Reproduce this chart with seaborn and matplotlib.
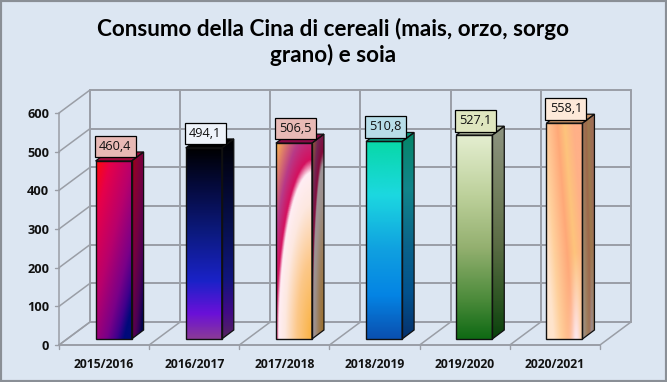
import numpy as np
import pandas as pd
import matplotlib.pyplot as plt
from matplotlib.colors import LinearSegmentedColormap, to_rgb
from matplotlib.patches import Polygon, Rectangle
from matplotlib.transforms import Affine2D
import seaborn as sns

# dati
stagioni = ['2015/2016', '2016/2017', '2017/2018', '2018/2019', '2019/2020', '2020/2021']
consumo = [460.4, 494.1, 506.5, 510.8, 527.1, 558.1]
etichette = ['460,4', '494,1', '506,5', '510,8', '527,1', '558,1']
tick_y = [0, 100, 200, 300, 400, 500, 600]
titolo = 'Consumo della Cina di cereali (mais, orzo, sorgo\ngrano) e soia'

colori_box = ['#e8b9b5', '#eef3fa', '#e8b9b5', '#b7dde8', '#dfe6bf', '#fde9d9']
colori_top = ['#a00a3c', '#000000', '#8c0a48', '#0a9a80', '#a8b09a', '#c8946a']

SFONDO = '#dce6f2'
GRIGIO = '#9a9ea6'
W, H = 667, 382
DX, DY = 31, 23      # profondita' pareti
BX, BY = 9.5, 6      # posizione barra nel piano
SX, SY = 12, 9       # profondita' barra

df = pd.DataFrame({'stagione': stagioni, 'consumo': consumo})

sns.set_theme(style='white', rc={'figure.facecolor': SFONDO, 'axes.facecolor': 'none'})
plt.rcParams['font.family'] = ['Open Sans', 'DejaVu Sans']

fig = plt.figure(figsize=(W / 100, H / 100), dpi=100)
ax = fig.add_axes([59 / W, 1 - 345 / H, 541 / W, 232 / H])

sns.barplot(data=df, x='stagione', y='consumo', width=0.4, color='white', ax=ax, zorder=3)
ax.set_xlim(-0.5, 5.5)
ax.set_ylim(0, 600)
ax.set_yticks(tick_y)
ax.set_xlabel('')
ax.set_ylabel('')
ax.tick_params(axis='both', length=0)
sns.despine(ax=ax, left=True, bottom=True)
ax.set_xticks(range(6))
ax.set_xticklabels(stagioni, fontsize=8.7, fontweight='bold', color='#111111')
ax.set_yticklabels([str(v) for v in tick_y], fontsize=9.2, fontweight='bold', color='#111111')
ax.tick_params(axis='x', pad=9)
ax.tick_params(axis='y', pad=7)


def sposta(dx, dy):
    return ax.transData + Affine2D().translate(dx, dy)


# bordo del grafico
fig.add_artist(Rectangle((0, 0), 1, 1, transform=fig.transFigure, fill=False,
                         edgecolor='#8a8f96', linewidth=3))

# pareti: griglia
t_back = sposta(DX, DY)
lw = 1.4
for v in tick_y:
    ax.plot([-0.5, 5.5], [v, v], color=GRIGIO, lw=lw, transform=t_back, zorder=1, clip_on=False)
    # linea obliqua parete sinistra
    p0 = ax.transData.transform((-0.5, v))
    p1 = p0 + np.array([DX, DY])
    ax.plot([p0[0], p1[0]], [p0[1], p1[1]], color=GRIGIO, lw=1.1, transform=None, zorder=1, clip_on=False)
    ax.plot([p0[0] - 4, p0[0]], [p0[1], p0[1]], color=GRIGIO, lw=1.0, transform=None, zorder=1, clip_on=False)
for i in range(7):
    x = i - 0.5
    ax.plot([x, x], [0, 600], color=GRIGIO, lw=lw, transform=t_back, zorder=1, clip_on=False)
    p0 = ax.transData.transform((x, 0))
    p1 = p0 + np.array([DX, DY])
    ax.plot([p0[0], p1[0]], [p0[1], p1[1]], color=GRIGIO, lw=1.1, transform=None, zorder=1, clip_on=False)
    ax.plot([p0[0], p0[0]], [p0[1], p0[1] - 4], color=GRIGIO, lw=1.0, transform=None, zorder=1, clip_on=False)
ax.plot([-0.5, -0.5], [0, 600], color=GRIGIO, lw=1.1, zorder=1, clip_on=False)
ax.plot([-0.5, 5.5], [0, 0], color=GRIGIO, lw=1.4, zorder=1, clip_on=False)


# riempimenti sfumati
def scala(stops):
    return LinearSegmentedColormap.from_list('g', stops)


def griglia(n=120):
    return np.meshgrid(np.linspace(0, 1, n), np.linspace(0, 1, n * 2))


def verticale(stops):
    u, v = griglia()
    return scala(stops)(v)[..., :3]


def diagonale(stops, a, b):
    u, v = griglia()
    return scala(stops)(np.clip(a * u + b * v, 0, 1))[..., :3]


def radiale(stops):
    u, v = griglia()
    r = np.sqrt(((1 - u) / 1.0) ** 2 + ((1 - v) / 0.92) ** 2) / 1.45
    return scala(stops)(np.clip(r, 0, 1))[..., :3]


def strisce(stops):
    u, v = griglia()
    t = np.clip(u - 0.45 * (v - 0.5) + 0.02, 0, 1)
    img = scala(stops)(t)[..., :3]
    # riflesso chiaro in basso a destra
    chiaro = np.clip((v - 0.6) * 2.5, 0, 1) * np.exp(-((u - 0.82) / 0.14) ** 2)
    bianco = np.array(to_rgb('#fde8ee'))
    return img * (1 - chiaro[..., None]) + bianco * chiaro[..., None]


riempimenti = [
    diagonale([(0, '#ff0a0a'), (0.2, '#e6004a'), (0.5, '#b8006c'), (0.76, '#7a0088'), (0.9, '#40008c'), (1, '#000a7a')], 0.5, 0.62),
    verticale([(0, '#000000'), (0.2, '#050a3c'), (0.45, '#0c1a80'), (0.7, '#1a22c8'), (0.87, '#6a10d8'), (1, '#8a3a98')]),
    radiale([(0, '#f9b03c'), (0.3, '#fcc88a'), (0.52, '#fde8e0'), (0.64, '#ffeef4'), (0.69, '#d4105e'), (0.8, '#b83a88'), (0.95, '#e89060'), (1, '#f8b050')]),
    verticale([(0, '#08d8a8'), (0.27, '#1cd8e0'), (0.55, '#10a0e0'), (0.78, '#0484e4'), (1, '#0a50b0')]),
    verticale([(0, '#e4eed0'), (0.3, '#bcd09a'), (0.55, '#94b070'), (0.8, '#4e8c3c'), (1, '#0f6a14')]),
    strisce([(0, '#ffe4cc'), (0.2, '#ffd09c'), (0.55, '#ffa878'), (0.75, '#fdc47c'), (1, '#ffb088')]),
]

for i, (barra, img) in enumerate(zip(ax.patches, riempimenti)):
    x0, x1 = barra.get_x(), barra.get_x() + barra.get_width()
    h = barra.get_height()
    barra.set_visible(False)

    # in pixel a partire dalla barra disegnata da seaborn
    a = ax.transData.transform((x0, 0)) + np.array([BX, BY])
    b = ax.transData.transform((x1, h)) + np.array([BX, BY])
    pxl, pyb, pxr, pyt = a[0], a[1], b[0], b[1]

    # fianco
    lato = Polygon([(pxr, pyb), (pxr + SX, pyb + SY), (pxr + SX, pyt + SY), (pxr, pyt)],
                   closed=True, transform=None, facecolor='none', edgecolor='#101010', lw=0.9, zorder=6)
    ax.add_patch(lato)
    im = ax.imshow(img * 0.62, extent=(pxr, pxr + SX, pyb, pyt + SY), aspect='auto', transform=Affine2D(),
                   zorder=4, interpolation='bilinear')
    im.set_clip_path(lato)

    # faccia superiore
    ax.add_patch(Polygon([(pxl, pyt), (pxl + SX, pyt + SY), (pxr + SX, pyt + SY), (pxr, pyt)],
                         closed=True, transform=None, facecolor=colori_top[i], edgecolor='#101010',
                         lw=0.9, zorder=5))

    # faccia frontale
    fronte = Rectangle((pxl, pyb), pxr - pxl, pyt - pyb, transform=None, facecolor='none',
                       edgecolor='#101010', lw=1.0, zorder=7)
    ax.add_patch(fronte)
    im = ax.imshow(img, extent=(pxl, pxr, pyb, pyt), aspect='auto', transform=Affine2D(),
                   zorder=4.5, interpolation='bilinear')
    im.set_clip_path(fronte)

    # etichetta
    ax.text(pxl + 19.5, pyt + 14.5, etichette[i], transform=None, ha='center', va='center',
            fontsize=9.2, color='#111111', zorder=9,
            bbox=dict(boxstyle='square,pad=0.34', facecolor=colori_box[i], edgecolor='black', lw=0.9))

ax.set_xlim(-0.5, 5.5)
ax.set_ylim(0, 600)

fig.text(333 / W, 1 - 42 / H, titolo, ha='center', va='center', fontsize=16.2, fontweight='bold',
         family=['Lato', 'DejaVu Sans'], color='black', linespacing=1.25)

fig.savefig('out.png', dpi=100, facecolor=SFONDO)
